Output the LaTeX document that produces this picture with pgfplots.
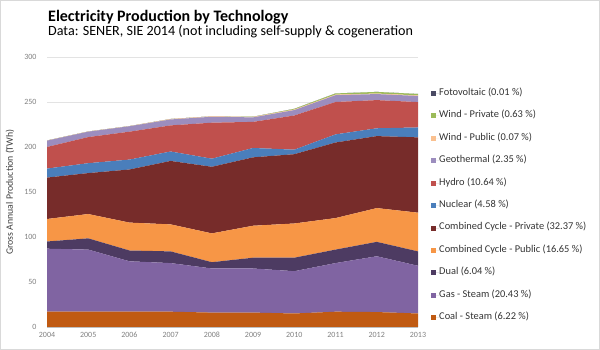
\documentclass[border=0pt]{standalone}
\usepackage{fontspec}
\setmainfont{Carlito}
\usepackage{pgfplots}
\usepackage{pgfplotstable}
\pgfplotsset{compat=1.18}
\definecolor{coal}{RGB}{192,90,18}
\definecolor{gas}{RGB}{128,100,162}
\definecolor{dual}{RGB}{77,59,98}
\definecolor{ccpub}{RGB}{247,150,70}
\definecolor{ccpriv}{RGB}{119,44,42}
\definecolor{nuc}{RGB}{74,126,187}
\definecolor{hydro}{RGB}{192,80,77}
\definecolor{geo}{RGB}{156,141,190}
\definecolor{windpub}{RGB}{250,192,143}
\definecolor{windpriv}{RGB}{155,187,89}
\definecolor{foto}{RGB}{74,74,99}
\definecolor{ticklab}{RGB}{128,128,128}
\pgfplotstableread{
year coal gas dual ccpub ccpriv nuc hydro geo windpub windpriv foto
2004 17   70   8    25   46    10   24   7    0.2  0    0.01
2005 17   69   12.5 27   45.5  11   29   6    0.2  0    0.01
2006 17   56   12   31   59    11   31   6    0.2  0    0.01
2007 17   54   13   30   70.5  10.5 29   6.6  0.5  0    0.01
2008 16   49   7    32   74    9    40   6.6  0.5  0    0.01
2009 16   49   12   35.5 76    10.4 29   5    0.5  0.2  0.01
2010 15   47   15   38   77    5    38   6    0.6  0.8  0.02
2011 17   54   15   35   84    9    36   7.6  0.6  1.3  0.02
2012 16.6 62   16   37.5 80    8.7  31.3 6.7  0.6  1.8  0.03
2013 15   53   16   43   83.7  11   28.2 6.8  0.6  1.6  0.03
}\datatable
\begin{document}
\begin{tikzpicture}
\path[use as bounding box] (0pt,0pt) rectangle (600pt,350pt);
\draw[gray!30] (0.5pt,0.5pt) rectangle (599.5pt,349.5pt);
\node[anchor=base west, inner sep=0pt, font=\fontsize{16}{19}\selectfont\bfseries] at (48pt,328pt) {Electricity Production by Technology};
\node[anchor=base west, inner sep=0pt, font=\fontsize{14.1}{16}\selectfont] at (48pt,314.3pt) {Data: SENER, SIE 2014 (not including self-supply \& cogeneration};
\begin{axis}[
  at={(47pt,23pt)}, anchor=south west,
  scale only axis, width=371pt, height=270pt,
  xmin=2004, xmax=2013, ymin=0, ymax=300,
  xtick={2004,...,2013}, ytick={0,50,...,300},
  stack plots=y,
  axis y line=left, axis x line=bottom,
  y axis line style={draw=none},
  x axis line style={draw=gray!50, -},
  major tick length=0pt,
  ymajorgrids, grid style={gray!22, line width=0.6pt},
  tick label style={font=\fontsize{8}{9}\selectfont, text=ticklab},
  /pgf/number format/assume math mode=true,
  xticklabel style={/pgf/number format/1000 sep=, yshift=-2pt},
  yticklabel style={xshift=-7pt},
  ylabel={Gross Annual Production (TWh)},
  ylabel style={at={(axis description cs:-0.1,0.5)}, anchor=center, font=\fontsize{9.8}{11}\selectfont, text=black!75},
  legend image code/.code={\fill[#1] (0pt,-2.5pt) rectangle (5pt,2.5pt); \path (0pt,0pt) -- (8.6pt,0pt);},
  reverse legend,
  legend cell align=left,
  legend style={at={(axis description cs:1.034,0.881)}, anchor=north west, draw=none, fill=none,
    inner sep=0pt, outer sep=0pt, row sep=13.94pt,
    font=\fontsize{10.4}{11}\selectfont, text=black!80,
    nodes={inner sep=0pt, text height=6.2pt, text depth=2.3pt}},
]
\addplot[fill=coal, draw=none] table[x=year,y=coal]{\datatable} \closedcycle;
\addlegendentry{Coal - Steam (6.22 \%)}
\addplot[fill=gas, draw=none] table[x=year,y=gas]{\datatable} \closedcycle;
\addlegendentry{Gas - Steam (20.43 \%)}
\addplot[fill=dual, draw=none] table[x=year,y=dual]{\datatable} \closedcycle;
\addlegendentry{Dual (6.04 \%)}
\addplot[fill=ccpub, draw=none] table[x=year,y=ccpub]{\datatable} \closedcycle;
\addlegendentry{Combined Cycle - Public (16.65 \%)}
\addplot[fill=ccpriv, draw=none] table[x=year,y=ccpriv]{\datatable} \closedcycle;
\addlegendentry{Combined Cycle - Private (32.37 \%)}
\addplot[fill=nuc, draw=none] table[x=year,y=nuc]{\datatable} \closedcycle;
\addlegendentry{Nuclear (4.58 \%)}
\addplot[fill=hydro, draw=none] table[x=year,y=hydro]{\datatable} \closedcycle;
\addlegendentry{Hydro (10.64 \%)}
\addplot[fill=geo, draw=none] table[x=year,y=geo]{\datatable} \closedcycle;
\addlegendentry{Geothermal (2.35 \%)}
\addplot[fill=windpub, draw=none] table[x=year,y=windpub]{\datatable} \closedcycle;
\addlegendentry{Wind - Public (0.07 \%)}
\addplot[fill=windpriv, draw=none] table[x=year,y=windpriv]{\datatable} \closedcycle;
\addlegendentry{Wind - Private (0.63 \%)}
\addplot[fill=foto, draw=none] table[x=year,y=foto]{\datatable} \closedcycle;
\addlegendentry{Fotovoltaic (0.01 \%)}
\end{axis}
\end{tikzpicture}
\end{document}
